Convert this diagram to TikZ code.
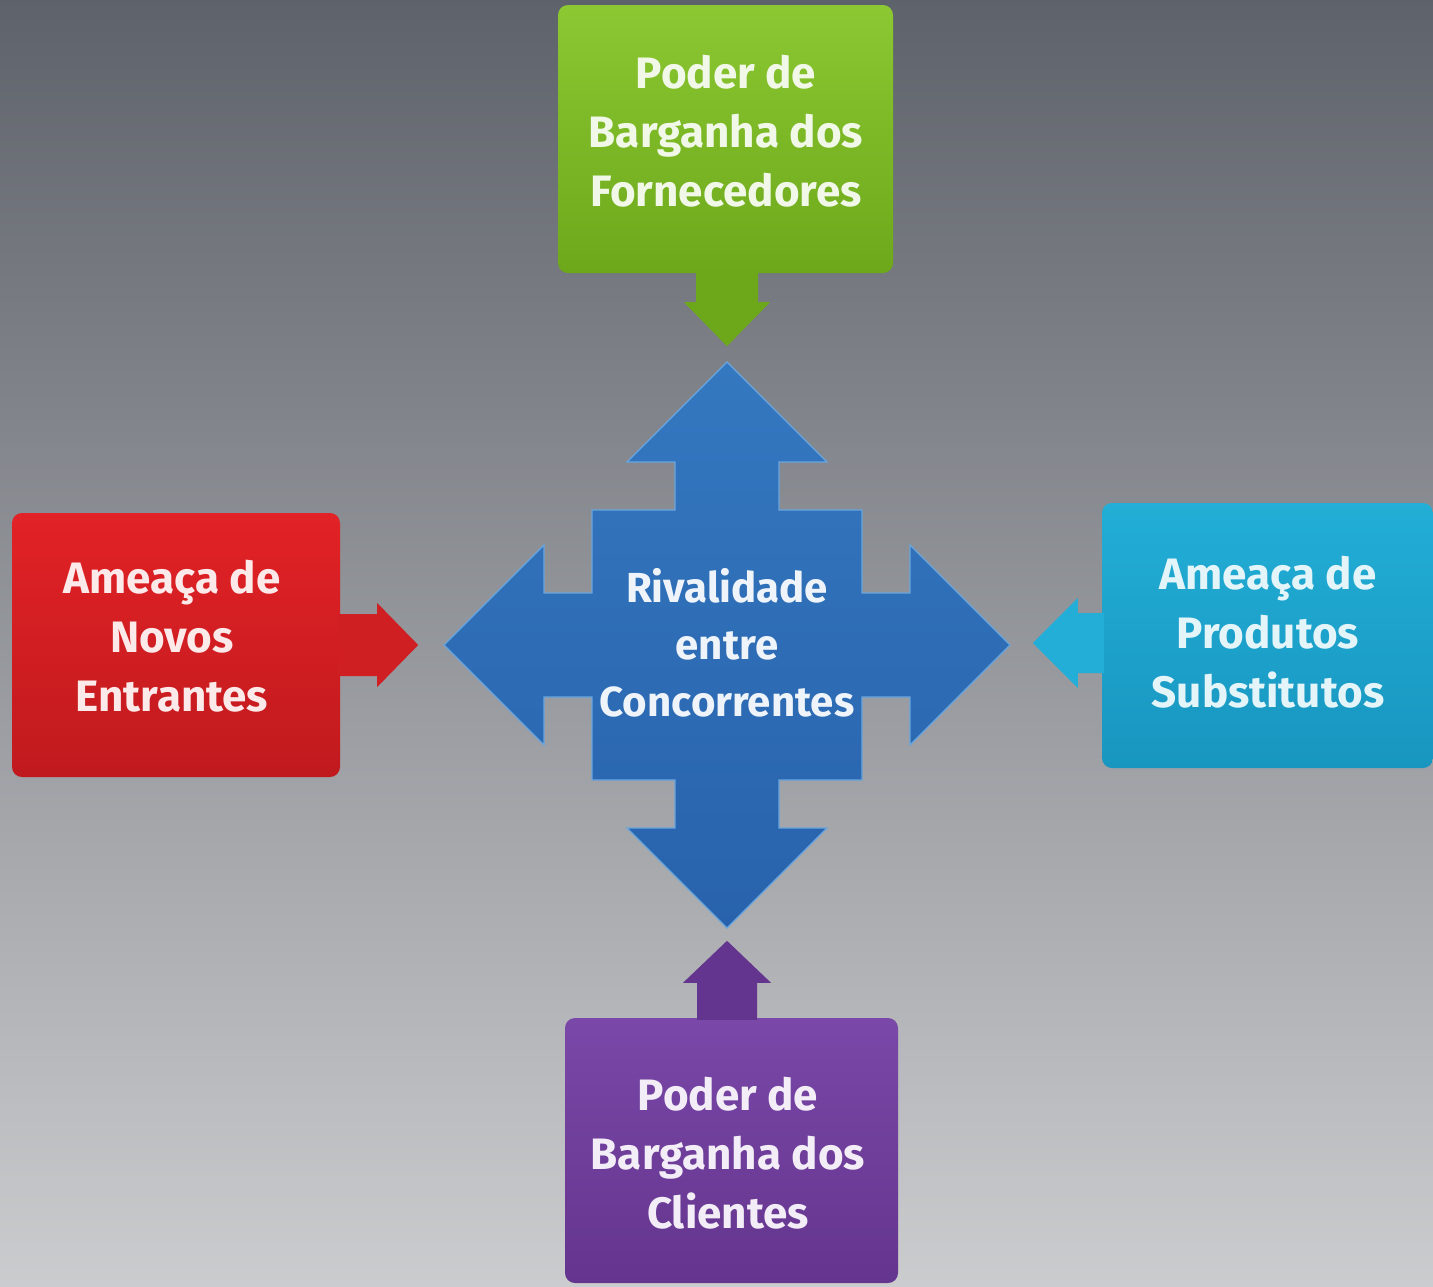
\documentclass[tikz,border=0pt]{standalone}
\usepackage{fontspec}
\setmainfont{Fira Sans}
\definecolor{bgtop}{HTML}{5E626A}
\definecolor{bgbot}{HTML}{CBCCCE}
\definecolor{grnA}{HTML}{8CC832}
\definecolor{grnB}{HTML}{6CA81A}
\definecolor{redA}{HTML}{E22226}
\definecolor{redB}{HTML}{C01A1E}
\definecolor{cyaA}{HTML}{22AED6}
\definecolor{cyaB}{HTML}{1896C0}
\definecolor{purA}{HTML}{7A48A8}
\definecolor{purB}{HTML}{64358E}
\definecolor{bluA}{HTML}{3478C0}
\definecolor{bluB}{HTML}{2862AC}
\definecolor{bluE}{HTML}{6AA6DE}
\begin{document}
\begin{tikzpicture}[x=1pt,y=-1pt,
  forcebox/.style={rounded corners=10pt, inner sep=0pt},
  label/.style={align=center, inner sep=0pt, font=\bfseries\fontsize{44}{59}\selectfont}]
\shade[top color=bgtop,bottom color=bgbot] (0,0) rectangle (1433,1286);
\useasboundingbox (0,0) rectangle (1433,1286);

% central cross
\begin{scope}[shift={(727,645)}]
\shade[top color=bluA,bottom color=bluB,draw=bluE,line width=1.2pt]
  (0,-283) -- (100,-183) -- (52,-183) -- (52,-135) -- (135,-135) -- (135,-52)
  -- (183,-52) -- (183,-100) -- (283,0) -- (183,100) -- (183,52) -- (135,52)
  -- (135,135) -- (52,135) -- (52,183) -- (100,183) -- (0,283) -- (-100,183)
  -- (-52,183) -- (-52,135) -- (-135,135) -- (-135,52) -- (-183,52)
  -- (-183,100) -- (-283,0) -- (-183,-100) -- (-183,-52) -- (-135,-52)
  -- (-135,-135) -- (-52,-135) -- (-52,-183) -- (-100,-183) -- cycle;
\end{scope}
\node[label,font=\bfseries\fontsize{42}{57}\selectfont,text=white!92!bluA] (rival) at (727,643) {Rivalidade\\entre\\Concorrentes};

% boxes
\node[forcebox,minimum width=335pt,minimum height=268pt,top color=grnA,bottom color=grnB] (forn) at (725.5,139) {};
\node[forcebox,minimum width=328pt,minimum height=264pt,top color=redA,bottom color=redB] (entr) at (176,645) {};
\node[forcebox,minimum width=331pt,minimum height=265pt,top color=cyaA,bottom color=cyaB] (subs) at (1267.5,635.5) {};
\node[forcebox,minimum width=333pt,minimum height=265pt,top color=purA,bottom color=purB] (clie) at (731.5,1150.5) {};

\node[label,text=white!88!grnA] (fornT) at (726,131) {Poder de\\Barganha dos\\Fornecedores};
\node[label,text=white!90!redA] (entrT) at (172,636) {Ameaça de\\Novos\\Entrantes};
\node[label,text=white!88!cyaA] (subsT) at (1268,632) {Ameaça de\\Produtos\\Substitutos};
\node[label,text=white!90!purA] (clieT) at (728,1153) {Poder de\\Barganha dos\\Clientes};

% small arrows
\fill[grnB] ([xshift=-29.5pt,yshift=2pt]forn.south) -- ++(0,31) -- ++(-12,0) -- ++(43,44) -- ++(43,-44) -- ++(-12,0) -- ++(0,-31) -- cycle;
\fill[redA!92!black] ([xshift=-2pt,yshift=31pt]entr.east) -- ++(39,0) -- ++(0,-11) -- ++(41,42) -- ++(-41,42) -- ++(0,-11) -- ++(-39,0) -- cycle;
\fill[cyaA] ([xshift=2pt,yshift=22.5pt]subs.west) -- ++(-26,0) -- ++(0,-15) -- ++(-45,45) -- ++(45,45) -- ++(0,-15) -- ++(26,0) -- cycle;
\fill[purB] ([xshift=-34.5pt,yshift=-2pt]clie.north) -- ++(0,-37) -- ++(-14,0) -- ++(44,-42) -- ++(44,42) -- ++(-14,0) -- ++(0,37) -- cycle;
\end{tikzpicture}
\end{document}
